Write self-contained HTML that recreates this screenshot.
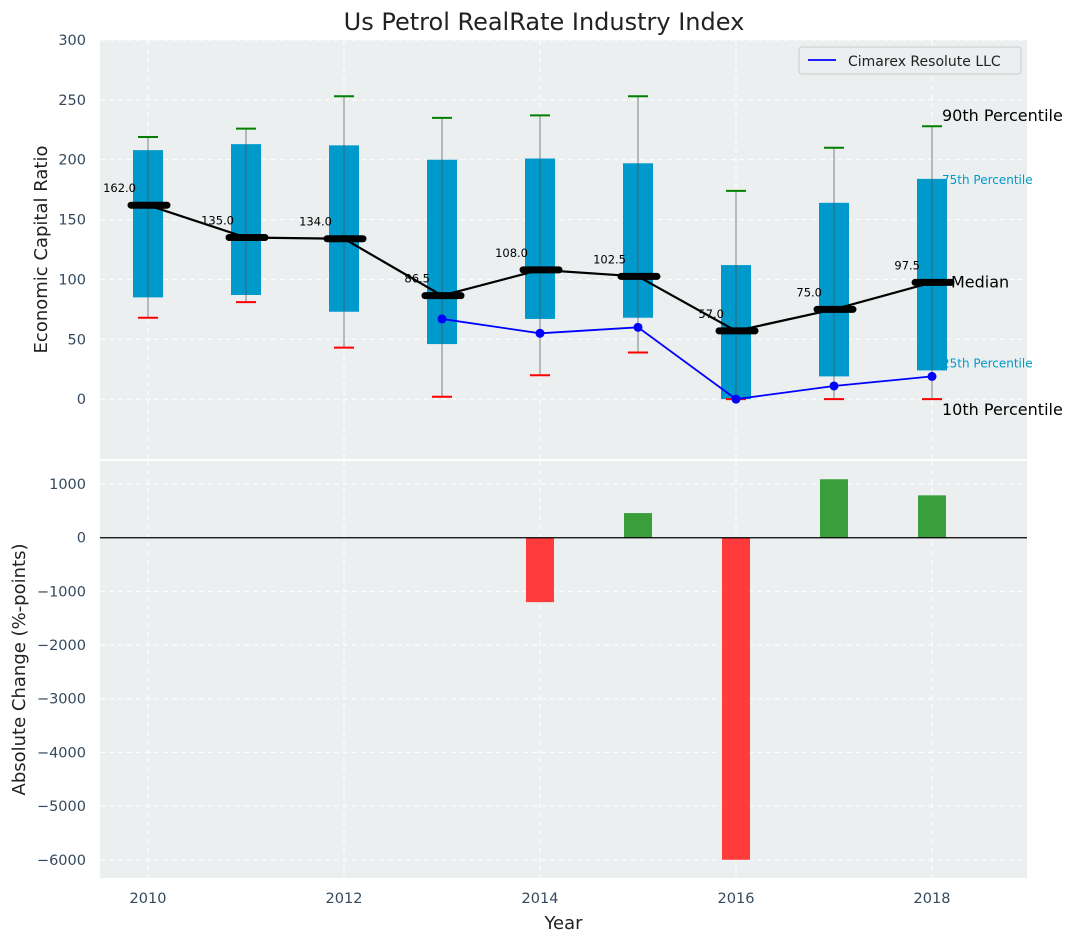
<!DOCTYPE html>
<html><head><meta charset="utf-8"><style>
body{margin:0;background:#fff;}
svg{display:block;font-family:"DejaVu Sans","Liberation Sans",sans-serif;}
</style></head><body>
<svg id="chart" width="1077" height="942" viewBox="0 0 1077 942">
<text x="544" y="30" text-anchor="middle" font-size="24" fill="#222">Us Petrol RealRate Industry Index</text>
<g id="topg"></g><g id="botg"></g>
</svg>
<script>
const years=[2010,2011,2012,2013,2014,2015,2016,2017,2018];
const q1=[85,87,73,46,67,68,0,19,24];
const q3=[208,213,212,200,201,197,112,164,184];
const p10=[68,81,43,2,20,39,0,0,0];
const p90=[219,226,253,235,237,253,174,210,228];
const medians=[162,135,134,86.5,108,102.5,57,75,97.5];
const companyYears=[2013,2014,2015,2016,2017,2018];
const companyVals=[67,55,60,0,11,19];
const changeYears=[2014,2015,2016,2017,2018];
const changeVals=[-1200,460,-6000,1090,790];
const topTicks=[0,50,100,150,200,250,300];
const botTicks=[1000,0,-1000,-2000,-3000,-4000,-5000,-6000];
const xTicks=[2010,2012,2014,2016,2018];

const NS="http://www.w3.org/2000/svg";
const L=100,R=1027;
const X=v=>148+(v-2010)*98;
const T0=40,T1=459,Y=v=>T0+(300-v)/(300+50)*(T1-T0);
const B0=461,B1=878,BY=v=>B0+(1430-v)/(1430+6340)*(B1-B0);
function mk(p,tag,a,txt){const e=document.createElementNS(NS,tag);for(const k in a)e.setAttribute(k,a[k]);if(txt!==undefined)e.textContent=txt;p.appendChild(e);return e;}
const topG=document.getElementById('topg'),botG=document.getElementById('botg');
let e;
e=mk(topG,'rect',{x:L,y:T0,width:R-L,height:T1-T0,fill:'#ebeff0'});


e=mk(botG,'rect',{x:L,y:B0,width:R-L,height:B1-B0,fill:'#ebeff0'});


for(const t of topTicks){const y=Y(t);
 mk(topG,'line',{x1:L,x2:R,y1:y,y2:y,stroke:'#fff','stroke-dasharray':'5,4','stroke-width':1});
 e=mk(topG,'text',{x:L-14,y:y+5,'text-anchor':'end','font-size':14.5,fill:'#34495e'},t);
 
 }
for(const t of botTicks){const y=BY(t);
 mk(botG,'line',{x1:L,x2:R,y1:y,y2:y,stroke:'#fff','stroke-dasharray':'5,4','stroke-width':1});
 e=mk(botG,'text',{x:L-14,y:y+5,'text-anchor':'end','font-size':14.5,fill:'#34495e'},(t<0?'\u2212'+(-t):t));
 
 }
for(const t of xTicks){const x=X(t);
 mk(topG,'line',{x1:x,x2:x,y1:T0,y2:T1,stroke:'#fff','stroke-dasharray':'5,4'});
 mk(botG,'line',{x1:x,x2:x,y1:B0,y2:B1,stroke:'#fff','stroke-dasharray':'5,4'});
 e=mk(botG,'text',{x:x,y:B1+25,'text-anchor':'middle','font-size':14.5,fill:'#34495e'},t);
 
 }
years.forEach((yr,i)=>{const x=X(yr);
 e=mk(topG,'rect',{x:x-15,y:Y(q3[i]),width:30,height:Y(q1[i])-Y(q3[i]),fill:'#0099cc'});
 
 
 mk(topG,'line',{x1:x,x2:x,y1:Y(p90[i]),y2:Y(p10[i]),stroke:'#555','stroke-opacity':0.6,'stroke-width':1.2});
 mk(topG,'line',{x1:x-10,x2:x+10,y1:Y(p90[i]),y2:Y(p90[i]),stroke:'green','stroke-width':2});
 mk(topG,'line',{x1:x-10,x2:x+10,y1:Y(p10[i]),y2:Y(p10[i]),stroke:'red','stroke-width':2});
});
e=mk(topG,'polyline',{points:years.map((yr,i)=>X(yr)+','+Y(medians[i])).join(' '),fill:'none',stroke:'#000','stroke-width':2.2});


years.forEach((yr,i)=>{const x=X(yr),y=Y(medians[i]);
 e=mk(topG,'line',{x1:x-17,x2:x+19,y1:y,y2:y,stroke:'#000','stroke-width':7,'stroke-linecap':'round'});
 
 
 e=mk(topG,'text',{x:x-12,y:y-13,'text-anchor':'end','font-size':11.5,fill:'#000'},medians[i].toFixed(1));
 
 
});
e=mk(topG,'polyline',{points:companyYears.map((yr,i)=>X(yr)+','+Y(companyVals[i])).join(' '),fill:'none',stroke:'blue','stroke-width':1.8});


companyYears.forEach((yr,i)=>{e=mk(topG,'circle',{cx:X(yr),cy:Y(companyVals[i]),r:4.5,fill:'blue'});
 
 });
const ax=X(2018)+10;
const ann=[['90th Percentile',p90[8],-5,16,'#000'],['75th Percentile',q3[8],5,12,'#0099cc'],['Median',medians[8],5,16,'#000'],['25th Percentile',q1[8],-3,12,'#0099cc'],['10th Percentile',p10[8],16,16,'#000']];
ann.forEach(a=>{e=mk(topG,'text',{x:a[0]=='Median'?ax+9:ax,y:Y(a[1])+a[2],'font-size':a[3],fill:a[4]},a[0]);
 
 });
const lg=mk(topG,'g',{});


mk(lg,'rect',{x:799,y:47,width:222,height:27,rx:3,fill:'#ebeff0',stroke:'#ccc'});
mk(lg,'line',{x1:808,x2:836,y1:60,y2:60,stroke:'blue','stroke-width':1.8});
mk(lg,'text',{x:848,y:66,'font-size':14,fill:'#222'},'Cimarex Resolute LLC');
changeYears.forEach((yr,i)=>{const v=changeVals[i],x=X(yr);
 e=mk(botG,'rect',{x:x-14,y:Math.min(BY(v),BY(0)),width:28,height:Math.abs(BY(v)-BY(0)),fill:v<0?'#ff3b3b':'#3a9e3a'});
 
 });
mk(botG,'line',{x1:L,x2:R,y1:BY(0),y2:BY(0),stroke:'#000','stroke-width':1.2});
e=mk(topG,'text',{x:47,y:(T0+T1)/2,'text-anchor':'middle','font-size':18,fill:'#222',transform:`rotate(-90 47 ${(T0+T1)/2})`},'Economic Capital Ratio');


e=mk(botG,'text',{x:25,y:(B0+B1)/2,'text-anchor':'middle','font-size':18,fill:'#222',transform:`rotate(-90 25 ${(B0+B1)/2})`},'Absolute Change (%-points)');


e=mk(botG,'text',{x:(L+R)/2,y:929,'text-anchor':'middle','font-size':18,fill:'#222'},'Year');


</script>
</body></html>
